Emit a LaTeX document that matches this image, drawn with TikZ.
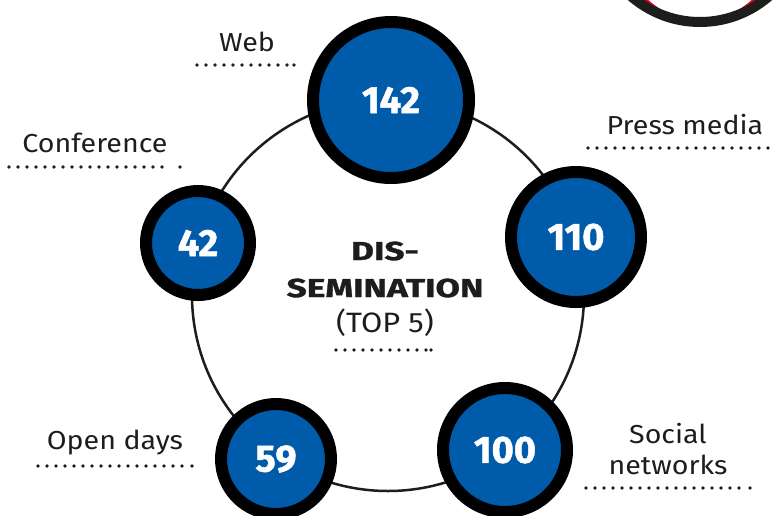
\documentclass[tikz,border=0pt]{standalone}
\usepackage{fontspec}
\setmainfont{Fira Sans}
\newfontfamily\lblfont{Fira Sans}[FakeStretch=1.1]
\newfontfamily\titlefont{Fira Sans}[UprightFont=* Bold, UprightFeatures={FakeStretch=1.36, FakeBold=1.3}]
\newfontfamily\numfont{Fira Sans}[UprightFont=* Bold, UprightFeatures={FakeBold=1.3}]
\definecolor{dblue}{RGB}{0,91,170}
\definecolor{ink}{RGB}{29,29,27}
\definecolor{rred}{RGB}{226,0,26}
\begin{document}
\begin{tikzpicture}[x=1pt,y=-1pt,
  num/.style={circle, fill=dblue, draw=black, line width=12pt, text=white,
    font=\numfont\fontsize{38}{38}\selectfont, inner sep=0pt},
  lbl/.style={font=\lblfont\fontsize{26}{31}\selectfont, text=ink, align=center, inner sep=0pt},
  title/.style={font=\titlefont\fontsize{26}{30}\selectfont, text=ink, inner sep=0pt},
  dotline/.style={line width=3.6pt, line cap=round, dash pattern=on 0pt off 9pt, draw=ink},
  dotend/.style={fill=ink},
]
\useasboundingbox (0,0) rectangle (776,515);
% partial ring top right
\begin{scope}
\clip (0,0) rectangle (776,515);
\fill[rred] (700,-83) circle (101);
\fill[white] (700,-56) circle (76);
\draw[ink, line width=10pt] (700,-83) circle (105);
\end{scope}
% big circle
\node[circle, draw=ink, line width=2.5pt, minimum size=392pt, inner sep=0pt] (ring) at (388,295) {};
% number circles
\node[num, minimum size=156pt] (web) at (391,100) {142};
\node[num, minimum size=130pt] (press) at (576,237) {110};
\node[num, minimum size=104pt] (conf) at (198,243) {42};
\node[num, minimum size=124pt] (social) at (505,450) {100};
\node[num, minimum size=110pt] (open) at (276,459) {59};
% labels
\node[lbl] (lweb) at (247,42) {Web};
\node[lbl] (lconf) at (95,143) {Conference};
\node[lbl] (lpress) at (685,125) {Press media};
\node[lbl] (lopen) at (115,443) {Open days};
\node[lbl] (lsocial) at (668,449) {Social\\networks};
% centre title
\node[title] (t1) at (385,251) {DIS-};
\node[title] (t2) at (385,288) {SEMINATION};
\node[lbl, font=\lblfont\fontsize{28}{30}\selectfont] (t3) at (385,323) {(TOP 5)};
% dotted rules
\coordinate (wa) at (197,65); \coordinate (wb) at (288,65); \coordinate (wc) at (294,65);
\draw[dotline] (wa) -- (wb); \fill[dotend] (wc) circle (1.8);
\coordinate (ca) at (9,167); \coordinate (cb) at (169,167); \coordinate (cc) at (180,167);
\draw[dotline] (ca) -- (cb); \fill[dotend] (cc) circle (1.8);
\coordinate (pa) at (588,148); \coordinate (pb) at (775,148);
\draw[dotline] (pa) -- (pb);
\coordinate (oa) at (38,466); \coordinate (ob) at (182,466); \coordinate (oc) at (192,466);
\draw[dotline] (oa) -- (ob); \fill[dotend] (oc) circle (1.8);
\coordinate (sa) at (586,488); \coordinate (sb) at (739,488); \coordinate (sc) at (750,488);
\draw[dotline] (sa) -- (sb); \fill[dotend] (sc) circle (1.8);
\coordinate (ta) at (336,350); \coordinate (tb) at (426,350); \coordinate (tc) at (431,350);
\draw[dotline] (ta) -- (tb); \fill[dotend] (tc) circle (1.8);
\end{tikzpicture}
\end{document}
